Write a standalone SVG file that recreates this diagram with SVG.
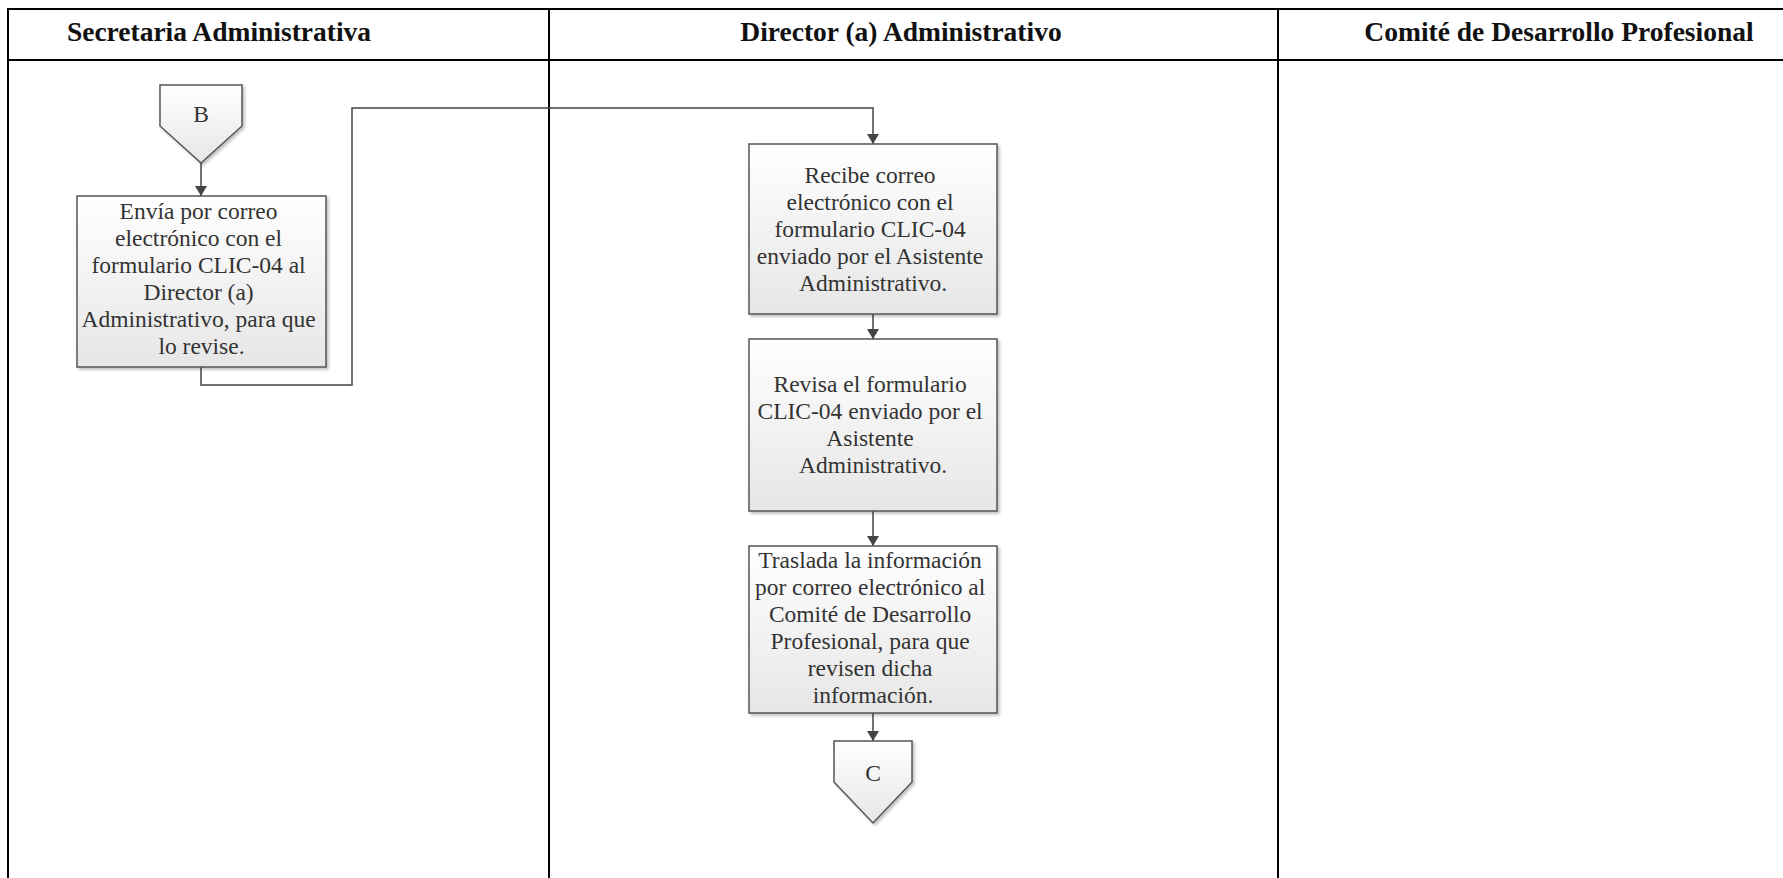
<svg xmlns="http://www.w3.org/2000/svg" width="1783" height="878" viewBox="0 0 1783 878">
  <style>
    .lane { stroke: #000; stroke-width: 2; fill: none; }
    .hdr { font-family: "Liberation Serif", "Times New Roman", serif; font-weight: bold; font-size: 27.5px; fill: #111; text-anchor: middle; }
    .box { fill: url(#gfill); stroke: #555; stroke-width: 1.5; filter: url(#shadow); }
    .lbl { font-family: "Liberation Serif", "Times New Roman", serif; font-size: 23.5px; fill: #333; text-anchor: middle; }
    .flow { stroke: #444; stroke-width: 1.5; fill: none; }
  </style>
  <defs>
    <linearGradient id="gfill" x1="0" y1="0" x2="0" y2="1">
      <stop offset="0" stop-color="#ffffff"/>
      <stop offset="1" stop-color="#e6e6e6"/>
    </linearGradient>
    <filter id="shadow" x="-10%" y="-10%" width="130%" height="130%">
      <feGaussianBlur in="SourceAlpha" stdDeviation="1.5"/>
      <feOffset dx="2" dy="2" result="b"/>
      <feComponentTransfer><feFuncA type="linear" slope="0.25"/></feComponentTransfer>
      <feMerge><feMergeNode/><feMergeNode in="SourceGraphic"/></feMerge>
    </filter>
    <marker id="arrow" viewBox="0 0 10 12" refX="10" refY="6" markerWidth="10" markerHeight="12" markerUnits="userSpaceOnUse" orient="auto">
      <path d="M0,0 L10,6 L0,12 Z" fill="#444"/>
    </marker>
  </defs>

  <rect width="1783" height="878" fill="#fff"/>

  <!-- swimlane frame -->
  <g id="lanes">
    <path class="lane" d="M8,890 V9 H1790"/>
    <path class="lane" d="M8,60 H1790"/>
    <path class="lane" d="M549,9 V890"/>
    <path class="lane" d="M1278,9 V890"/>
    <text class="hdr" x="219" y="41">Secretaria Administrativa</text>
    <text class="hdr" x="901" y="41">Director (a) Administrativo</text>
    <text class="hdr" x="1559" y="41">Comité de Desarrollo Profesional</text>
  </g>

  <!-- connectors -->
  <g id="connectors">
    <path class="flow" d="M201,163 V196" marker-end="url(#arrow)"/>
    <path class="flow" d="M201,367 V385 H352 V108 H873 V144" marker-end="url(#arrow)"/>
    <path class="flow" d="M873,314 V339" marker-end="url(#arrow)"/>
    <path class="flow" d="M873,511 V546" marker-end="url(#arrow)"/>
    <path class="flow" d="M873,713 V741" marker-end="url(#arrow)"/>
  </g>

  <g id="offpage-B">
    <path class="box" d="M160,85 H242 V126 L201,163 L160,126 Z"/>
    <text class="lbl" x="201" y="122">B</text>
  </g>

  <g id="step-envia">
    <rect class="box" x="77" y="196" width="249" height="171"/>
    <text class="lbl">
      <tspan x="201.5" y="219">Envía por correo</tspan>
      <tspan x="201.5" y="246">electrónico con el</tspan>
      <tspan x="201.5" y="273">formulario CLIC-04 al</tspan>
      <tspan x="201.5" y="300">Director (a)</tspan>
      <tspan x="201.5" y="327">Administrativo, para que</tspan>
      <tspan x="201.5" y="354">lo revise.</tspan>
    </text>
  </g>

  <g id="step-recibe">
    <rect class="box" x="749" y="144" width="248" height="170"/>
    <text class="lbl">
      <tspan x="873" y="183">Recibe correo</tspan>
      <tspan x="873" y="210">electrónico con el</tspan>
      <tspan x="873" y="237">formulario CLIC-04</tspan>
      <tspan x="873" y="264">enviado por el Asistente</tspan>
      <tspan x="873" y="291">Administrativo.</tspan>
    </text>
  </g>

  <g id="step-revisa">
    <rect class="box" x="749" y="339" width="248" height="172"/>
    <text class="lbl">
      <tspan x="873" y="392">Revisa el formulario</tspan>
      <tspan x="873" y="419">CLIC-04 enviado por el</tspan>
      <tspan x="873" y="446">Asistente</tspan>
      <tspan x="873" y="473">Administrativo.</tspan>
    </text>
  </g>

  <g id="step-traslada">
    <rect class="box" x="749" y="546" width="248" height="167"/>
    <text class="lbl">
      <tspan x="873" y="568">Traslada la información</tspan>
      <tspan x="873" y="595">por correo electrónico al</tspan>
      <tspan x="873" y="622">Comité de Desarrollo</tspan>
      <tspan x="873" y="649">Profesional, para que</tspan>
      <tspan x="873" y="676">revisen dicha</tspan>
      <tspan x="873" y="703">información.</tspan>
    </text>
  </g>

  <g id="offpage-C">
    <path class="box" d="M834,741 H912 V782 L873,823 L834,782 Z"/>
    <text class="lbl" x="873" y="781">C</text>
  </g>
</svg>
